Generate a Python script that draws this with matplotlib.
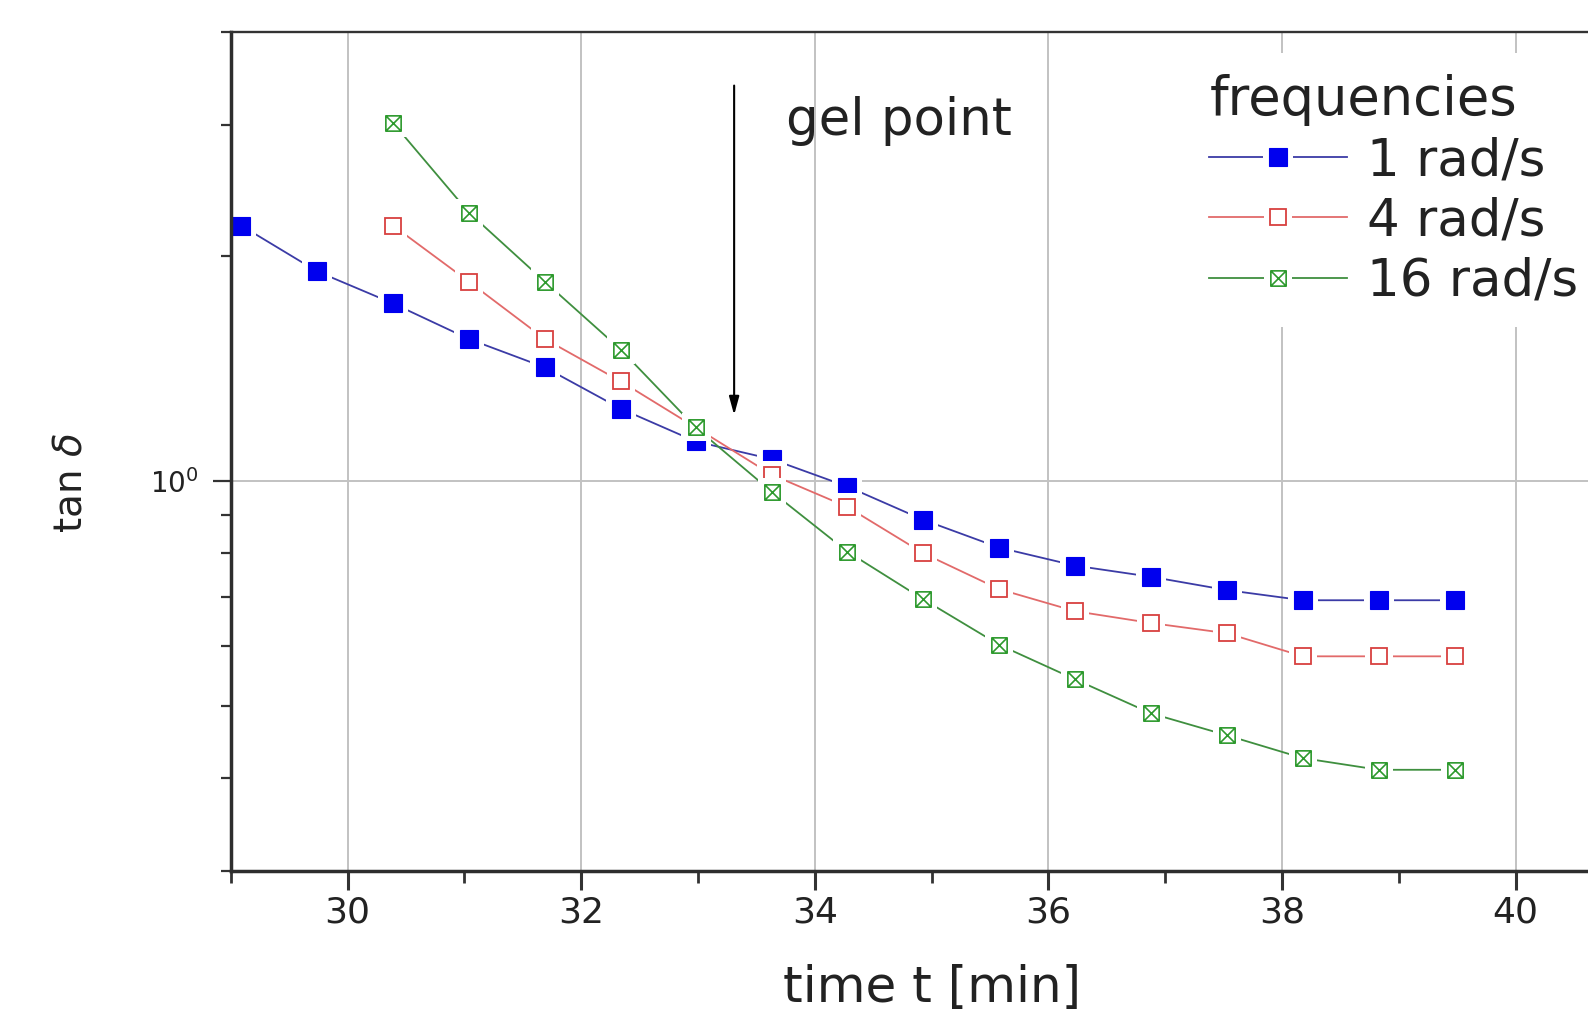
import matplotlib
matplotlib.use('Agg')
import matplotlib.pyplot as plt
from matplotlib import ticker
from matplotlib.path import Path
from matplotlib.legend_handler import HandlerTuple

plt.rcParams.update({
    'font.family': 'DejaVu Sans',
    'text.color': '#222222',
    'axes.labelcolor': '#222222',
    'xtick.color': '#333333',
    'ytick.color': '#333333',
    'xtick.labelcolor': '#222222',
    'ytick.labelcolor': '#222222',
})

# --- data: tan(delta) vs curing time at three frequencies ---
time_1 = [29.09, 29.74, 30.39, 31.04, 31.69, 32.34, 32.98, 33.63, 34.28,
          34.93, 35.58, 36.23, 36.88, 37.53, 38.18, 38.83, 39.48]
tan_1 = [2.20, 1.91, 1.73, 1.55, 1.42, 1.25, 1.13, 1.07, 0.983,
         0.887, 0.814, 0.770, 0.744, 0.714, 0.692, 0.692, 0.692]

time_4 = [30.39, 31.04, 31.69, 32.34, 32.98, 33.63, 34.28, 34.93,
          35.58, 36.23, 36.88, 37.53, 38.18, 38.83, 39.48]
tan_4 = [2.20, 1.85, 1.55, 1.36, 1.18, 1.02, 0.923, 0.800,
         0.716, 0.669, 0.645, 0.625, 0.582, 0.582, 0.582]

time_16 = [30.39, 31.04, 31.69, 32.34, 32.98, 33.63, 34.28, 34.93,
           35.58, 36.23, 36.88, 37.53, 38.18, 38.83, 39.48]
tan_16 = [3.02, 2.29, 1.85, 1.50, 1.18, 0.968, 0.804, 0.694,
          0.603, 0.542, 0.488, 0.456, 0.425, 0.410, 0.410]

labels = ['1 rad/s', '4 rad/s', '16 rad/s']
x_ticks = [30, 32, 34, 36, 38, 40]

gel_time = 33.31
gel_arrow = (3.39, 1.226)   # tan(delta) at arrow tail / tip

# square with a cross inside (Origin-style "boxed x" symbol)
box_x = Path([(-1, -1), (1, -1), (1, 1), (-1, 1), (-1, -1),
              (-1, -1), (1, 1), (-1, 1), (1, -1)],
             [Path.MOVETO, Path.LINETO, Path.LINETO, Path.LINETO, Path.CLOSEPOLY,
              Path.MOVETO, Path.LINETO, Path.MOVETO, Path.LINETO])

series = [
    dict(t=time_1, y=tan_1, line='#3b3ba6', marker='s', mfc='#0000ee', mec='#0000ee', ms=12.5, mew=0.8),
    dict(t=time_4, y=tan_4, line='#e26a6a', marker='s', mfc='white', mec='#d8403f', ms=11.5, mew=1.3),
    dict(t=time_16, y=tan_16, line='#3f8f3f', marker=box_x, mfc='white', mec='#2e9a2e', ms=11, mew=1.2),
]

fig = plt.figure(figsize=(15.88, 10.15), dpi=100)
# axes runs 29..41 min; the right end is cut off by the figure edge as in the source
ax = fig.add_axes([0.1453, 0.1419, 0.8826, 0.8266])

handles = []
for i, s in enumerate(series):
    ln, = ax.plot(s['t'], s['y'], color=s['line'], lw=1.3, zorder=2)
    # white halo under each symbol leaves the small gap between line and symbol
    halo, = ax.plot(s['t'], s['y'], ls='none', marker='s', ms=s['ms'] + 9,
                    mfc='white', mec='white', mew=0, zorder=3 + i * 0.2)
    mk, = ax.plot(s['t'], s['y'], ls='none', marker=s['marker'], ms=s['ms'],
                  mfc=s['mfc'], mec=s['mec'], mew=s['mew'], zorder=3.1 + i * 0.2)
    handles.append((ln, halo, mk))

ax.set_yscale('log')
ax.set_xlim(29, 41)
ax.set_ylim(0.3, 4)

ax.xaxis.set_major_locator(ticker.FixedLocator(x_ticks))
ax.xaxis.set_minor_locator(ticker.MultipleLocator(1))
ax.yaxis.set_major_locator(ticker.LogLocator(base=10))
ax.yaxis.set_minor_locator(ticker.LogLocator(base=10, subs=range(2, 10)))
ax.yaxis.set_minor_formatter(ticker.NullFormatter())

ax.grid(True, which='major', color='#c2c2c2', lw=1.4)

for side in ['left', 'bottom']:
    ax.spines[side].set_linewidth(2.5)
    ax.spines[side].set_color('#2e2e2e')
ax.spines['top'].set_linewidth(1.7)
ax.spines['top'].set_color('#333333')
ax.spines['right'].set_visible(False)
for sp in ax.spines.values():
    sp.set_zorder(5)   # keep the frame above the marker halos

ax.tick_params(axis='x', which='major', direction='out', length=14, width=2.2,
               labelsize=26, pad=3.5)
ax.tick_params(axis='x', which='minor', direction='out', length=8.5, width=2.0)
ax.tick_params(axis='y', which='major', direction='out', length=13, width=1.6,
               labelsize=20, pad=10)
ax.tick_params(axis='y', which='minor', direction='out', length=7, width=1.6)

ax.set_xlabel('time t [min]', fontsize=36, va='center')
ax.xaxis.set_label_coords(0.5, -0.1395)
ax.set_ylabel(r'tan $\delta$', fontsize=28, va='center')
ax.yaxis.set_label_coords(-0.114, 0.462)

# gel point marker
ax.annotate('', xy=(gel_time, gel_arrow[1]), xytext=(gel_time, gel_arrow[0]),
            arrowprops=dict(arrowstyle='-|>,head_length=1.1,head_width=0.3',
                            color='black', lw=1.5, shrinkA=0, shrinkB=0,
                            mutation_scale=10))
ax.text(33.75, 2.91, 'gel point', fontsize=37, ha='left', va='baseline')

leg = ax.legend(handles=handles, labels=labels, title='frequencies',
                loc='upper left', bbox_to_anchor=(0.7487, 0.9475),
                bbox_transform=fig.transFigure, borderaxespad=0,
                fontsize=37, title_fontsize=38, alignment='left',
                frameon=True, framealpha=1, facecolor='white', edgecolor='none',
                fancybox=False, handlelength=2.67, handletextpad=0.39,
                labelspacing=0.2, borderpad=0.4,
                handler_map={tuple: HandlerTuple(ndivide=1)})
leg.set_zorder(10)

fig.savefig('out.png', dpi=100)
